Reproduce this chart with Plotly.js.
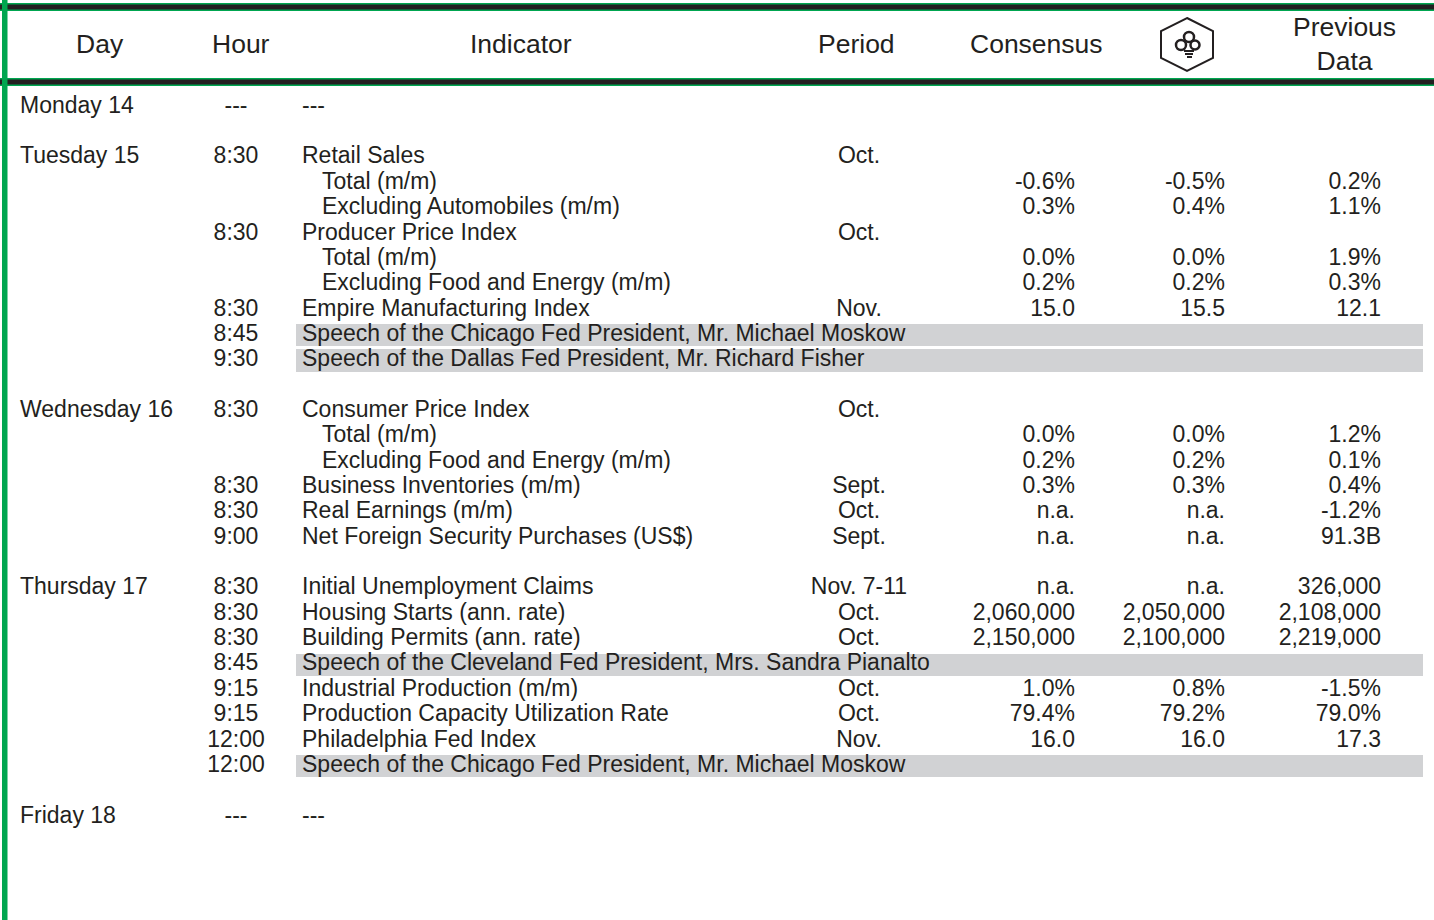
<!DOCTYPE html>
<html>
<head>
<meta charset="utf-8">
<script src="https://cdn.plot.ly/plotly-3.0.1.min.js"></script>
<style>
  html, body { margin: 0; padding: 0; background: #ffffff; }
  #chart { width: 1434px; height: 920px; }
</style>
</head>
<body>
<div id="chart"></div>
<script>
// ---- Table data (one entry per row, blank strings for empty cells) ----
var headers = ["Day", "Hour", "Indicator", "Period", "Consensus", "", "Previous<br>Data"];

var rowDay = ["Monday 14", "", "Tuesday 15", "", "", "", "", "", "", "", "", "",
  "Wednesday 16", "", "", "", "", "", "",
  "Thursday 17", "", "", "", "", "", "", "", "",
  "Friday 18"];

var rowHour = ["---", "", "8:30", "", "", "8:30", "", "", "8:30", "8:45", "9:30", "",
  "8:30", "", "", "8:30", "8:30", "9:00", "",
  "8:30", "8:30", "8:30", "8:45", "9:15", "9:15", "12:00", "12:00", "",
  "---"];

var rowIndicator = ["---", "", "Retail Sales", "Total (m/m)", "Excluding Automobiles (m/m)",
  "Producer Price Index", "Total (m/m)", "Excluding Food and Energy (m/m)",
  "Empire Manufacturing Index",
  "Speech of the Chicago Fed President, Mr. Michael Moskow",
  "Speech of the Dallas Fed President, Mr. Richard Fisher", "",
  "Consumer Price Index", "Total (m/m)", "Excluding Food and Energy (m/m)",
  "Business Inventories (m/m)", "Real Earnings (m/m)", "Net Foreign Security Purchases (US$)", "",
  "Initial Unemployment Claims", "Housing Starts (ann. rate)", "Building Permits (ann. rate)",
  "Speech of the Cleveland Fed President, Mrs. Sandra Pianalto",
  "Industrial Production (m/m)", "Production Capacity Utilization Rate",
  "Philadelphia Fed Index",
  "Speech of the Chicago Fed President, Mr. Michael Moskow", "",
  "---"];

// 1 = sub-item (indented), 2 = speech (shaded row), 0 = normal
var rowKind = [0, 0, 0, 1, 1, 0, 1, 1, 0, 2, 2, 0,
  0, 1, 1, 0, 0, 0, 0,
  0, 0, 0, 2, 0, 0, 0, 2, 0,
  0];

var rowPeriod = ["", "", "Oct.", "", "", "Oct.", "", "", "Nov.", "", "", "",
  "Oct.", "", "", "Sept.", "Oct.", "Sept.", "",
  "Nov. 7-11", "Oct.", "Oct.", "", "Oct.", "Oct.", "Nov.", "", "",
  ""];

var rowConsensus = ["", "", "", "-0.6%", "0.3%", "", "0.0%", "0.2%", "15.0", "", "", "",
  "", "0.0%", "0.2%", "0.3%", "n.a.", "n.a.", "",
  "n.a.", "2,060,000", "2,150,000", "", "1.0%", "79.4%", "16.0", "", "",
  ""];

var rowBank = ["", "", "", "-0.5%", "0.4%", "", "0.0%", "0.2%", "15.5", "", "", "",
  "", "0.0%", "0.2%", "0.3%", "n.a.", "n.a.", "",
  "n.a.", "2,050,000", "2,100,000", "", "0.8%", "79.2%", "16.0", "", "",
  ""];

var rowPrevious = ["", "", "", "0.2%", "1.1%", "", "1.9%", "0.3%", "12.1", "", "", "",
  "", "1.2%", "0.1%", "0.4%", "-1.2%", "91.3B", "",
  "326,000", "2,108,000", "2,219,000", "", "-1.5%", "79.0%", "17.3", "", "",
  ""];

// ---- Build traces ----
var TXT = "#231f20";
var FONT = "Liberation Sans, Arial, sans-serif";
var FS = 23;
var rows = rowDay.map(function (_, i) { return i; });

function col(x, texts, pos) {
  var xs = [], ys = [], ts = [];
  texts.forEach(function (t, i) {
    if (t === "") return;
    xs.push(typeof x === "function" ? x(i) : x);
    ys.push(i);
    ts.push(t);
  });
  return {
    type: "scatter", mode: "text", x: xs, y: ys, text: ts,
    textposition: pos, cliponaxis: false, hoverinfo: "skip",
    textfont: { family: FONT, size: FS, color: TXT }, showlegend: false
  };
}

var speechRows = rows.filter(function (i) { return rowKind[i] === 2; });
var shade = {
  type: "bar", orientation: "h",
  y: speechRows, x: speechRows.map(function () { return 1127; }),
  base: speechRows.map(function () { return 296; }),
  width: 0.87, marker: { color: "#d1d2d4", line: { width: 0 } },
  hoverinfo: "skip", showlegend: false
};

var traces = [
  shade,
  col(20, rowDay, "middle right"),
  col(236, rowHour, "middle center"),
  col(function (i) { return rowKind[i] === 1 ? 322 : 302; }, rowIndicator, "middle right"),
  col(859, rowPeriod, "middle center"),
  col(1075, rowConsensus, "middle left"),
  col(1225, rowBank, "middle left"),
  col(1381, rowPrevious, "middle left")
];

// Header labels
var hx = [100, 241, 521, 856, 1036, 1187, 1344];
var annotations = headers.map(function (h, i) {
  return {
    x: hx[i], xref: "x", y: 1 - 44 / 920, yref: "paper", text: h, showarrow: false,
    xanchor: "center", yanchor: "middle",
    font: { family: FONT, size: 26.5, color: TXT }
  };
});

// Pixel-to-row mapping: row 0 at 107px, spacing 25.35px
var R0 = 107, DR = 25.35;
var yTop = -R0 / DR, yBot = (920 - R0) / DR;

var GREEN = "#00a650", DARK = "#231f20";
function hline(y0, y1, color) {
  return { type: "rect", xref: "paper", yref: "paper", x0: 0, x1: 1,
    y0: 1 - y1 / 920, y1: 1 - y0 / 920, fillcolor: color, line: { width: 0 }, layer: "above" };
}
function px(x, y) { return x + "," + (1 - y / 920); }
var shapes = [
  hline(3, 11, GREEN), hline(4.5, 9.5, DARK),
  hline(78, 86, GREEN), hline(79.5, 84.5, DARK),
  { type: "rect", xref: "paper", yref: "paper", x0: 2 / 1434, x1: 7.5 / 1434, y0: 0, y1: 1,
    fillcolor: GREEN, line: { width: 0 }, layer: "above" },
  // logo hexagon
  { type: "path", xref: "x", yref: "paper",
    path: "M" + [[1187, 18], [1213, 31], [1213, 58], [1187, 71], [1161, 58], [1161, 31]]
      .map(function (p) { return px(p[0], p[1]); }).join("L") + "Z",
    line: { color: DARK, width: 2 }, fillcolor: "rgba(0,0,0,0)" }
];
function circ(cx, cy, r) {
  return { type: "circle", xref: "x", yref: "paper",
    x0: cx - r, x1: cx + r, y0: 1 - (cy + r) / 920, y1: 1 - (cy - r) / 920,
    line: { color: DARK, width: 2.5 }, fillcolor: "rgba(0,0,0,0)" };
}
shapes.push(circ(1189, 37, 5));
shapes.push(circ(1181, 45, 5));
shapes.push(circ(1195, 45, 4.5));
shapes.push({ type: "path", xref: "x", yref: "paper",
  path: "M" + px(1184, 51) + "L" + px(1194, 51) + "M" + px(1185, 54) + "L" + px(1193, 54) +
        "M" + px(1187, 57) + "L" + px(1192, 57),
  line: { color: DARK, width: 2 } });

var layout = {
  width: 1434, height: 920,
  margin: { l: 0, r: 0, t: 0, b: 0, pad: 0 },
  paper_bgcolor: "#ffffff", plot_bgcolor: "#ffffff",
  xaxis: { range: [0, 1434], visible: false, fixedrange: true },
  yaxis: { range: [yBot, yTop], visible: false, fixedrange: true },
  barmode: "overlay", bargap: 0,
  showlegend: false,
  annotations: annotations,
  shapes: shapes
};

Plotly.newPlot("chart", traces, layout, { displayModeBar: false, staticPlot: true });
</script>
</body>
</html>
